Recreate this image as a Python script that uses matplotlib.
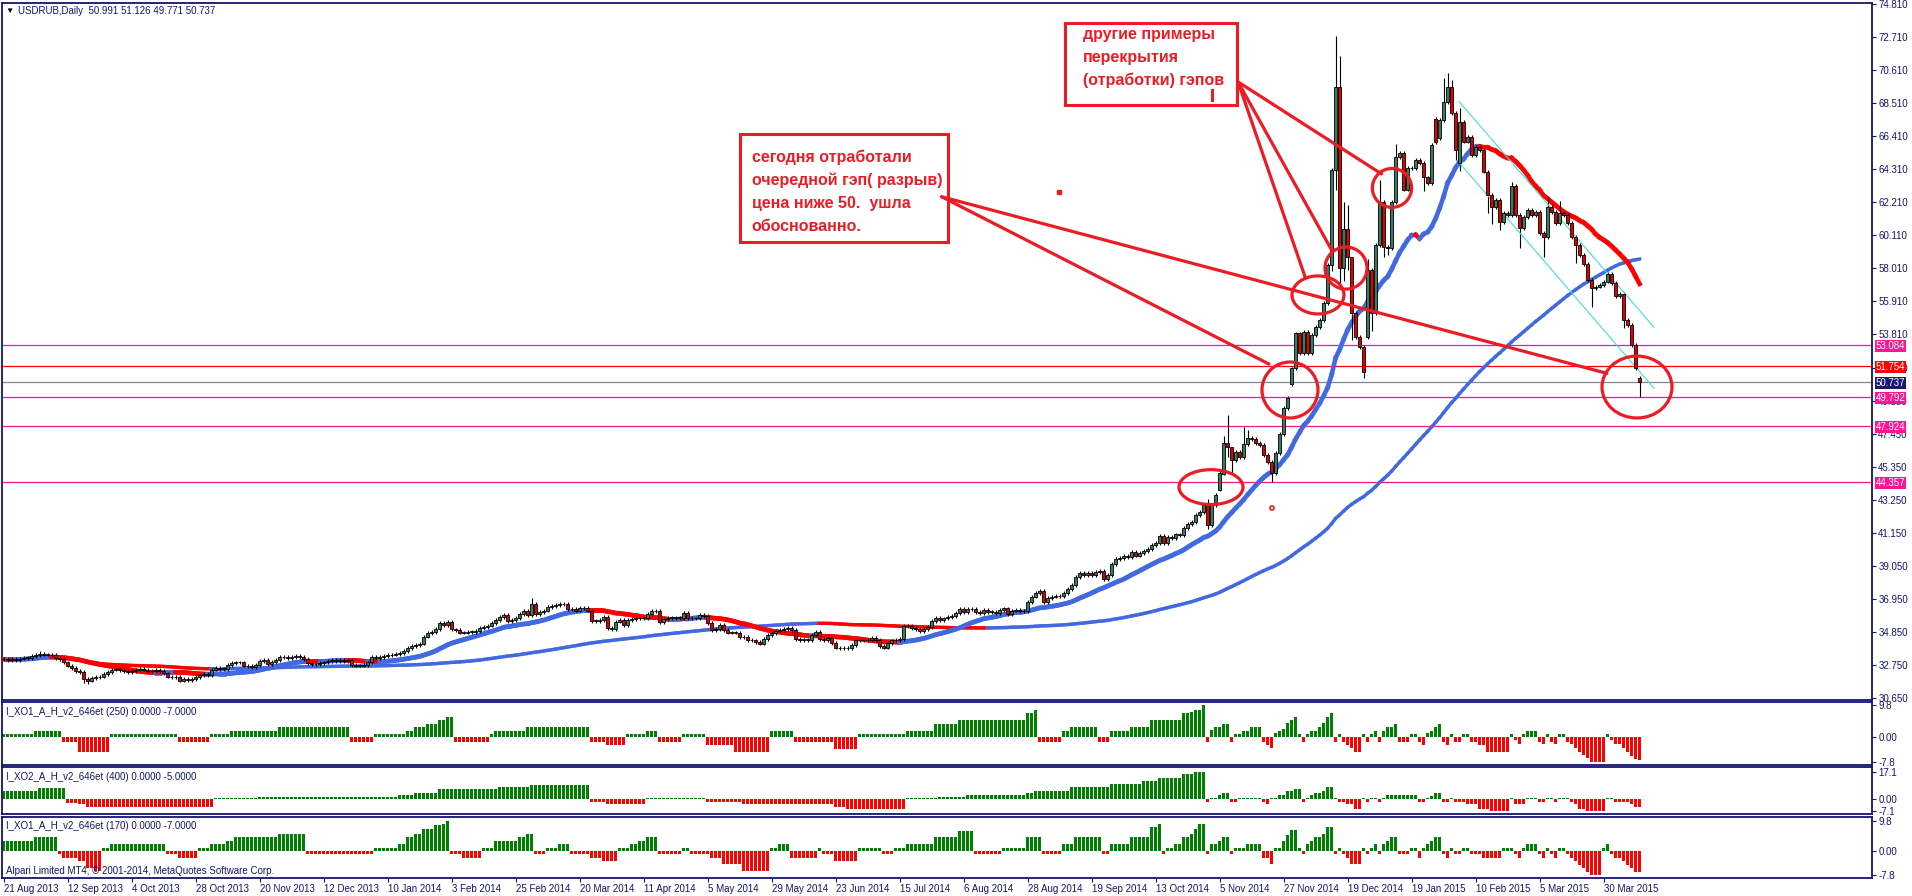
import numpy as np
import pandas as pd
import matplotlib
matplotlib.use("Agg")
import matplotlib.pyplot as plt
import matplotlib.transforms as mtransforms
from matplotlib.collections import LineCollection
from matplotlib.patches import Ellipse, Rectangle

plt.rcParams['font.family'] = ['Liberation Sans', 'DejaVu Sans']

W, H = 1912, 896
NAVY = '#14146e'
BULL = '#3a7d5c'
BEAR = '#e00000'
MA_UP = '#4169e1'
MA_DN = '#ff0000'
HIST_UP = '#008000'
HIST_DN = '#ff0000'
PEN = '#ed1c24'

# ---- price data (daily bars, 21 Aug 2013 .. 10 Apr 2015) ----
header = 'USDRUB,Daily  50.991 51.126 49.771 50.737'

closes = [
    33.10, 33.05, 33.10, 33.05, 33.15, 33.20, 33.20, 33.30, 33.35, 33.45,
    33.40, 33.40, 33.35, 33.20, 33.10, 32.90, 32.70, 32.55, 32.35, 32.30,
    31.85, 31.75, 31.90, 31.95, 32.00, 32.15, 32.30, 32.45, 32.50, 32.40,
    32.35, 32.30, 32.35, 32.45, 32.50, 32.45, 32.35, 32.35, 32.40, 32.35,
    32.20, 32.00, 31.95, 32.00, 31.75, 31.85, 31.80, 31.85, 31.95, 32.10,
    32.15, 32.10, 32.45, 32.55, 32.50, 32.50, 32.75, 32.85, 32.90, 32.90,
    32.70, 32.65, 32.60, 32.75, 33.00, 33.05, 32.80, 32.95, 33.05, 33.25,
    33.25, 33.20, 33.25, 33.30, 33.25, 33.10, 32.85, 32.80, 32.80, 32.85,
    32.90, 33.00, 33.05, 33.00, 33.05, 33.00, 33.05, 32.75, 32.70, 32.70,
    32.75, 32.90, 33.25, 33.20, 33.25, 33.30, 33.35, 33.40, 33.45, 33.50,
    33.65, 33.80, 33.95, 34.00, 34.10, 34.55, 34.75, 34.85, 35.05, 35.40,
    35.30, 35.45, 35.00, 34.95, 34.80, 34.80, 34.85, 34.85, 34.90, 35.10,
    35.15, 35.25, 35.40, 35.60, 35.80, 35.90, 35.55, 35.60, 35.75, 36.00,
    36.20, 35.90, 36.65, 36.00, 36.10, 36.20, 36.45, 36.50, 36.55, 36.60,
    36.65, 36.30, 36.30, 36.20, 36.35, 36.35, 36.20, 35.55, 35.55, 35.60,
    35.80, 35.10, 35.05, 35.50, 35.60, 35.30, 35.60, 35.65, 35.70, 35.70,
    35.70, 36.00, 36.20, 36.15, 35.45, 35.65, 35.75, 35.75, 35.75, 35.75,
    36.05, 35.75, 35.70, 35.70, 35.90, 35.85, 35.40, 34.95, 35.05, 35.30,
    34.95, 34.80, 34.80, 34.80, 34.50, 34.55, 34.35, 34.30, 34.20, 34.10,
    34.40, 34.65, 34.75, 34.90, 34.95, 35.05, 35.10, 34.95, 34.40, 34.35,
    34.35, 34.35, 34.65, 34.85, 34.40, 34.35, 34.45, 34.15, 33.85, 33.80,
    33.80, 33.80, 34.00, 34.30, 34.30, 34.30, 34.35, 34.45, 34.35, 33.95,
    33.85, 34.15, 34.30, 34.35, 34.40, 35.20, 35.20, 35.10, 35.00, 34.90,
    35.05, 35.15, 35.55, 35.75, 35.60, 35.70, 35.80, 35.85, 36.05, 36.30,
    36.10, 36.28, 36.28, 36.13, 36.07, 36.24, 36.13, 36.13, 36.07, 36.24,
    36.34, 36.00, 36.20, 36.24, 36.17, 36.17, 36.77, 37.09, 37.34, 37.47,
    36.77, 36.98, 37.09, 37.13, 37.15, 37.34, 37.55, 37.83, 38.36, 38.57,
    38.47, 38.57, 38.47, 38.68, 38.74, 38.19, 38.47, 39.17, 39.46, 39.53,
    39.68, 39.63, 39.95, 39.70, 39.89, 40.00, 40.10, 40.38, 40.52, 40.95,
    40.48, 40.91, 40.80, 41.05, 41.01, 41.44, 41.71, 41.86, 42.29, 42.46,
    42.92, 41.65, 42.92, 43.56, 44.94, 46.85, 46.64, 45.79, 46.32, 45.96,
    46.80, 47.17, 47.10, 46.85, 46.74, 46.10, 45.68, 44.98, 46.25, 47.44,
    49.08, 49.71, 51.61, 53.84, 52.57, 53.95, 52.57, 53.74, 54.27, 54.69,
    55.80, 58.19, 64.24, 69.55, 57.98, 60.46, 58.72, 55.12, 53.63, 52.99,
    51.40, 57.88, 55.12, 59.47, 62.22, 59.36, 59.25, 62.22, 65.09, 65.30,
    63.00, 64.35, 64.35, 64.87, 64.70, 63.77, 63.40, 65.83, 66.00, 67.42,
    68.59, 69.55, 67.85, 65.52, 67.32, 66.05, 66.36, 65.20, 65.73, 65.52,
    64.14, 62.65, 61.91, 62.33, 60.95, 61.49, 61.38, 63.22, 61.38, 60.53,
    61.27, 61.70, 61.38, 61.59, 60.25, 59.96, 61.91, 61.59, 60.85, 61.49,
    61.38, 60.89, 59.99, 59.47, 58.83, 58.26, 57.24, 56.71, 56.82, 56.92,
    57.14, 57.60, 57.03, 56.22, 56.35, 54.70, 54.38, 53.10, 51.62, 50.737,
]

# opens that differ from the previous close (gaps)
gap_opens = {304: 43.90, 305: 44.90, 322: 50.60, 341: 53.60, 358: 67.50,
             359: 66.30, 364: 64.67, 409: 50.991}

# notable highs / lows (None = just a short wick)
extremes = {
    9: (33.60, None), 20: (None, 31.60), 21: (None, 31.55), 132: (37.00, None),
    147: (None, 35.40), 301: (43.30, 41.40), 305: (47.30, 44.80),
    306: (48.65, 46.00), 307: (46.60, 44.90), 310: (47.90, None),
    311: (47.70, None), 317: (None, 44.40), 332: (None, 57.80),
    333: (72.80, 63.00), 334: (71.50, 57.00), 335: (62.20, 57.20),
    336: (62.00, 57.90), 337: (56.90, 53.40), 340: (None, 50.98),
    341: (58.60, None), 342: (None, 54.00), 344: (63.60, None),
    345: (None, 58.70), 346: (None, 58.80), 348: (65.90, None),
    355: (None, 62.90), 360: (70.10, None), 361: (70.40, None),
    362: (70.00, None), 363: (None, 64.90), 364: (68.20, 64.20),
    371: (None, 61.50), 372: (None, 60.80), 374: (None, 60.40),
    377: (63.50, None), 379: (None, 59.25), 385: (None, 58.70),
    386: (62.50, None), 389: (62.30, None), 393: (None, 58.30),
    397: (None, 55.50), 405: (None, 54.20), 409: (51.126, 49.771),
}
WICK = 0.12

fast_period = 21
slow_period = 100

date_labels = ['21 Aug 2013', '12 Sep 2013', '4 Oct 2013', '28 Oct 2013',
               '20 Nov 2013', '12 Dec 2013', '10 Jan 2014', '3 Feb 2014',
               '25 Feb 2014', '20 Mar 2014', '11 Apr 2014', '5 May 2014',
               '29 May 2014', '23 Jun 2014', '15 Jul 2014', '6 Aug 2014',
               '28 Aug 2014', '19 Sep 2014', '13 Oct 2014', '5 Nov 2014',
               '27 Nov 2014', '19 Dec 2014', '19 Jan 2015', '10 Feb 2015',
               '5 Mar 2015', '30 Mar 2015']
label_every = 16

# the price scale prints two runs of labels, 2.1 apart, from the top and from the bottom
price_ticks_top = [74.81 - 2.1 * k for k in range(11)]
price_ticks_bottom = [30.65 + 2.1 * k for k in range(11)]

levels = [53.084, 51.754, 50.737, 49.792, 47.924, 44.357]
level_colors = ['#ff1493', '#ff0000', '#778899', '#ff1493', '#ff1493', '#ff1493']
level_label_bg = ['#ff1493', '#ff0000', '#191970', '#ff1493', '#ff1493', '#ff1493']

# trend channel drawn on the chart (bar, price)
channel_upper = [(363.9, 68.59), (412.6, 54.23)]
channel_lower = [(363.7, 64.77), (412.6, 50.35)]

# ---- indicator histograms, as (first bar, value) steps ----
xo1_250_start = [0, 8, 15, 19, 27, 44, 52, 57, 69, 87, 93, 101, 103, 106, 109, 111, 113, 122, 123, 131,
                 147, 151, 156, 161, 164, 170, 176, 183, 192, 198, 208, 214, 226, 233, 239, 256, 258, 259,
                 265, 267, 274, 277, 282, 287, 295, 297, 298, 300, 301, 302, 303, 305, 307, 308, 310, 312,
                 315, 316, 317, 318, 319, 320, 321, 322, 323, 324, 325, 326, 327, 329, 330, 331, 332, 333,
                 334, 335, 336, 337, 338, 340, 341, 342, 343, 344, 345, 346, 348, 349, 352, 354, 355, 356,
                 357, 358, 359, 360, 361, 362, 363, 365, 367, 369, 371, 377, 378, 379, 380, 381, 384, 385,
                 386, 387, 388, 389, 391, 392, 393, 394, 395, 396, 397, 401, 402, 403, 405, 406, 407, 408, 409]
xo1_250_value = [0.8, 1.7, -1.5, -4.6, 0.8, -1.5, 0.8, 1.7, 3.1, -1.5, 0.8, 1.7, 3.1, 3.9, 5.1, 6.1, -1.5, 0.8, 1.7, 3.1,
                 -1.5, -2.5, 0.8, 1.7, -1.5, 0.8, -2.5, -4.6, 1.7, -1.5, -3.8, 0.8, 1.7, 3.9, 5.1, 7.1, 8.1, -1.5,
                 1.7, 3.1, -1.5, 1.7, 3.1, 5.1, 7.1, 7.6, 8.3, 9.8, -1.5, 2.0, 3.1, 3.8, -1.5, 0.8, 1.7, 3.1,
                 -1.5, -2.5, -3.6, 1.0, 1.7, 2.5, 4.1, 5.1, 6.1, 0.8, -1.5, 0.8, 1.7, 3.1, 4.1, 6.1, 7.1, -1.5,
                 0.8, -1.5, -2.5, -3.6, -4.6, 0.8, -1.5, 0.8, 1.7, -1.5, 1.7, 3.1, 3.9, -1.5, 0.8, -1.5, -2.5, 1.0,
                 1.7, 3.1, 3.9, -1.5, -2.5, 0.8, -1.5, 0.8, -1.5, -2.5, -4.6, 0.8, -1.0, -2.2, 0.8, 1.7, -1.5, -2.2,
                 0.8, -1.5, -2.2, 0.8, -1.5, -2.2, -3.6, -4.6, -5.6, -6.6, -7.8, 0.8, -1.0, -2.2, -3.6, -4.6, -5.8, -6.7, -7.0]

xo2_400_start = [0, 9, 16, 19, 21, 53, 64, 99, 103, 109, 124, 132, 147, 151, 161, 176, 185, 208, 211, 226,
                 234, 241, 256, 258, 267, 277, 285, 289, 295, 298, 301, 302, 304, 305, 307, 309, 315, 316,
                 317, 319, 321, 323, 325, 326, 327, 328, 330, 331, 333, 334, 336, 338, 340, 341, 342, 344,
                 345, 346, 354, 356, 357, 358, 360, 362, 363, 366, 369, 372, 377, 378, 381, 384, 386, 388,
                 389, 392, 393, 394, 396, 401, 403, 407, 408]
xo2_400_value = [5.4, 6.7, -2.1, -3.1, -4.6, 0.8, 1.25, 2.5, 3.75, 6.5, 7.7, 8.75, -1.9, -3.1, 0.6, -1.9, -3.1, -4.6, -5.8, 0.6,
                 1.25, 2.5, 3.75, 5.2, 7.5, 9.6, 11.0, 13.1, 15.4, 17.1, -1.9, 1.0, 2.5, 3.75, -1.9, 0.6, -1.9, -3.1,
                 1.0, 2.5, 5.0, 6.25, -1.9, 1.0, 2.5, 3.75, 5.2, 7.5, 0.6, -1.9, -3.1, -5.8, 0.6, -1.9, 0.6, -1.9,
                 0.6, 2.5, -1.9, 0.8, 1.7, 3.75, -1.9, 0.6, -1.9, -3.1, -5.8, -7.1, 0.8, -3.1, 0.8, -1.9, 0.8, -1.9,
                 0.8, -1.9, -3.1, -5.8, -7.1, 0.8, -1.9, -3.1, -5.0]

xo1_170_start = [0, 8, 14, 15, 19, 21, 23, 25, 27, 41, 44, 49, 52, 56, 58, 69, 76, 93, 99, 101, 103, 105, 108,
                 110, 111, 112, 115, 120, 123, 129, 131, 133, 136, 139, 142, 147, 150, 154, 157, 159, 161,
                 164, 170, 172, 177, 180, 185, 192, 194, 197, 204, 205, 208, 214, 220, 223, 226, 233, 239,
                 243, 250, 256, 260, 265, 268, 275, 277, 282, 287, 289, 290, 291, 293, 295, 297, 298, 299,
                 301, 302, 304, 305, 307, 308, 311, 315, 317, 318, 320, 321, 322, 324, 325, 326, 327, 328,
                 330, 331, 333, 334, 335, 336, 337, 340, 341, 342, 343, 344, 345, 346, 347, 349, 352, 354,
                 355, 356, 357, 358, 360, 361, 362, 363, 365, 367, 370, 375, 378, 379, 380, 381, 384, 385,
                 386, 387, 388, 389, 391, 392, 393, 394, 395, 396, 397, 400, 401, 402, 403, 405, 406, 407, 408, 409]
xo1_170_value = [3.3, 4.4, -1.1, -2.2, -3.3, -5.5, -6.6, 1.1, 2.2, -1.1, -2.2, 1.1, 2.2, 3.3, 4.4, 5.5, -1.1, 1.1, 2.2, 4.4, 5.5, 7.2, 8.4,
                 8.9, 9.8, -1.1, -2.2, 1.1, 3.3, 4.4, 5.5, -1.1, 1.1, 2.2, -1.1, -2.2, -3.3, 1.1, 2.2, 3.3, 4.4,
                 -1.1, 1.1, -1.1, -2.2, -4.4, -6.6, 1.1, 2.2, -2.2, 1.1, -1.1, -3.3, 1.1, -1.1, 1.1, 2.2, 4.4, 6.6,
                 -1.1, 1.1, 4.4, -1.1, 2.2, 4.4, -1.1, 2.2, 4.4, 7.7, 8.8, -1.1, 1.1, 2.2, 4.4, 5.5, 7.2, 8.8,
                 -1.1, 2.2, 3.3, 4.4, -1.1, 1.1, 2.2, -2.2, -4.4, 1.1, 3.3, 5.2, 6.8, 1.1, -1.1, 2.2, 3.3, 4.4,
                 5.5, 7.7, -1.1, 1.1, -1.1, -2.2, -4.4, 1.1, -1.1, 1.1, 2.2, -1.1, 2.2, 3.3, 4.4, -1.1, 1.1, -2.2,
                 1.1, 2.2, 3.3, 4.4, -1.1, -2.2, 1.1, -1.1, 1.1, -1.1, -2.2, 1.1, -1.1, -2.2, 1.1, 2.2, -1.1, -2.2,
                 1.1, -1.1, -2.2, 1.1, -1.1, -2.2, -3.3, -4.5, -5.6, -6.7, -7.8, 1.1, 2.2, -1.1, -2.2, -3.3, -4.5, -5.6, -6.7, -7.0]

# ---- annotations drawn over the chart (bar, price) ----
note_gaps = ['другие примеры', 'перекрытия', '(отработки) гэпов']
note_today = ['сегодня отработали', 'очередной гэп( разрыв)', 'цена ниже 50.  ушла', 'обоснованно.']
box_gaps = (265.35, 68.38, 308.35, 73.58)      # x0, y0, x1, y1
box_today = (184.1, 59.66, 236.1, 66.53)
text_gaps_at = (269.8, [72.84, 71.39, 69.93])
text_today_at = (187.0, [65.03, 63.56, 62.08, 60.63])
rays_from_gaps = [((308.6, 69.85), (344.5, 63.99)),
                  ((308.6, 69.85), (332.0, 59.15)),
                  ((308.6, 69.85), (325.35, 57.45))]
rays_from_today = [((234.5, 62.54), (316.35, 51.89)),
                   ((234.5, 62.54), (400.8, 51.30))]
# centre bar, centre price, half-width (bars), half-height (price)
rings = [(347.1, 63.10, 4.9, 1.24), (335.6, 58.00, 5.25, 1.34),
         (328.6, 56.29, 6.5, 1.21), (321.6, 50.24, 7.0, 1.78),
         (408.35, 50.43, 8.75, 1.97), (301.85, 44.06, 8.0, 1.11),
         (317.1, 42.73, 0.5, 0.13)]


def steps_to_series(starts, values, n):
    out = np.zeros(n)
    for k, s in enumerate(starts):
        e = starts[k + 1] if k + 1 < len(starts) else n
        out[s:e] = values[k]
    return out


def px_axes(fig, x0, y0, x1, y1):
    return fig.add_axes([x0 / W, 1 - y1 / H, (x1 - x0) / W, (y1 - y0) / H])


def draw_ma(ax, xs, vals, lw):
    pts = np.column_stack([xs, vals])
    segs = np.stack([pts[:-1], pts[1:]], axis=1)
    cols = np.where(np.diff(vals) >= 0, MA_UP, MA_DN)
    lc = LineCollection(segs, colors=cols, linewidths=lw, capstyle='projecting', zorder=3)
    ax.add_collection(lc)


def style_panel(ax):
    ax.set_xlim(-0.4, 467.1)
    for sp in ax.spines.values():
        sp.set_color(NAVY)
        sp.set_linewidth(1.3)
    ax.yaxis.tick_right()
    ax.tick_params(axis='y', direction='out', length=3, width=0.8, colors=NAVY,
                   labelsize=7, pad=1.5)
    ax.tick_params(axis='x', bottom=False, labelbottom=False)
    ax.set_facecolor('white')


n = len(closes)
x = np.arange(n)
c = np.array(closes)
o = np.r_[c[0], c[:-1]]
for i, v in gap_opens.items():
    o[i] = v
hi = np.maximum(o, c) + WICK
lo = np.minimum(o, c) - WICK
for i, (h, l) in extremes.items():
    if h is not None:
        hi[i] = h
    if l is not None:
        lo[i] = l

fast = pd.Series(c).rolling(fast_period, min_periods=1).mean().values
slow = pd.Series(c).rolling(slow_period, min_periods=1).mean().values

fig = plt.figure(figsize=(W / 100, H / 100), dpi=100)
fig.patch.set_facecolor('white')

ax = px_axes(fig, 2, 3, 1872, 700)
p1 = px_axes(fig, 2, 702, 1872, 765)
p2 = px_axes(fig, 2, 767, 1872, 814)
p3 = px_axes(fig, 2, 817, 1872, 878)

# main price chart
style_panel(ax)
ax.set_ylim(30.51, 74.87)
price_ticks = price_ticks_top + price_ticks_bottom
ax.set_yticks(price_ticks)
ax.set_yticklabels(['%.3f' % t for t in price_ticks])

for lev, col in zip(levels, level_colors):
    ax.axhline(lev, color=col, lw=0.9, zorder=1.5)

draw_ma(ax, x, slow, 2.4)
draw_ma(ax, x, fast, 3.3)

up = c >= o
body = np.maximum(np.abs(c - o), 0.02)
ax.vlines(x, lo, hi, color='black', lw=0.8, zorder=4)
ax.bar(x[up], body[up], bottom=o[up], width=0.75, color=BULL, edgecolor='black', lw=0.6, zorder=5)
ax.bar(x[~up], body[~up], bottom=c[~up], width=0.75, color=BEAR, edgecolor='black', lw=0.6, zorder=5)

for line in (channel_upper, channel_lower):
    ax.plot([line[0][0], line[1][0]], [line[0][1], line[1][1]], color='#40e0d0', lw=0.8, zorder=4.5)

# level labels on the price scale
blend = mtransforms.blended_transform_factory(ax.transAxes, ax.transData)
for lev, bg in zip(levels, level_label_bg):
    ax.text(1.0 + 3.5 / 1870, lev - 0.05, '%.3f' % lev, transform=blend, ha='left', va='center',
            fontsize=7, color='white', clip_on=False, zorder=10,
            bbox=dict(boxstyle='square,pad=0.1', fc=bg, ec='none'))

# hand drawn notes
for (bx0, by0, bx1, by1) in (box_gaps, box_today):
    ax.add_patch(Rectangle((bx0, by0), bx1 - bx0, by1 - by0, fill=False, ec=PEN, lw=2.2, zorder=8))
for (tx, tys), lines in ((text_gaps_at, note_gaps), (text_today_at, note_today)):
    for ty, line in zip(tys, lines):
        ax.text(tx, ty, line, color=PEN, fontsize=11.5, fontweight='bold', ha='left', va='center', zorder=8)
for (p0, p1_) in rays_from_gaps + rays_from_today:
    ax.plot([p0[0], p1_[0]], [p0[1], p1_[1]], color=PEN, lw=2.3, solid_capstyle='round', zorder=8)
for (cx, cy, rx, ry) in rings:
    lw = 2.3 if rx > 1 else 1.2
    ax.add_patch(Ellipse((cx, cy), 2 * rx, 2 * ry, fill=False, ec=PEN, lw=lw, zorder=8))
ax.plot([302.0, 302.0], [69.33, 68.70], color=PEN, lw=2.2, zorder=8)
ax.plot([263.85], [62.86], marker='s', ms=2.2, color=PEN, zorder=8)

fig.text(5 / W, 1 - 11 / H, '▼', fontsize=6, color='black', va='center', ha='left')
fig.text(18 / W, 1 - 11 / H, header, fontsize=7, color=NAVY, va='center', ha='left')

# indicator panels
panels = [
    (p1, steps_to_series(xo1_250_start, xo1_250_value, n), (-8.64, 10.59), [9.8, 0, -7.8],
     ['9.8', '0.00', '-7.8'], 'I_XO1_A_H_v2_646et (250) 0.0000 -7.0000', 711.7),
    (p2, steps_to_series(xo2_400_start, xo2_400_value, n), (-9.2, 20.0), [17.1, 0, -7.1],
     ['17.1', '0.00', '-7.1'], 'I_XO2_A_H_v2_646et (400) 0.0000 -5.0000', 776.7),
    (p3, steps_to_series(xo1_170_start, xo1_170_value, n), (-8.8, 11.06), [9.8, 0, -7.8],
     ['9.8', '0.00', '-7.8'], 'I_XO1_A_H_v2_646et (170) 0.0000 -7.0000', 825.7),
]
for pax, vals, lim, ticks, tlabels, title, ty in panels:
    style_panel(pax)
    pax.set_ylim(*lim)
    pax.bar(x, vals, width=0.7, color=np.where(vals >= 0, HIST_UP, HIST_DN), lw=0, zorder=2)
    pax.set_yticks(ticks)
    pax.set_yticklabels(tlabels)
    fig.text(6 / W, 1 - ty / H, title, fontsize=7, color=NAVY, va='center', ha='left')

fig.text(6 / W, 1 - 870.7 / H, 'Alpari Limited MT4, © 2001-2014, MetaQuotes Software Corp.',
         fontsize=7, color=NAVY, va='center', ha='left')

p3.tick_params(axis='x', bottom=True, labelbottom=True, direction='out', length=3, width=0.8,
               colors=NAVY, labelsize=7, pad=1)
p3.set_xticks([label_every * k for k in range(len(date_labels))])
p3.set_xticklabels(date_labels)
for lab in p3.get_xticklabels():
    lab.set_horizontalalignment('left')

fig.savefig('out.png', dpi=100)
